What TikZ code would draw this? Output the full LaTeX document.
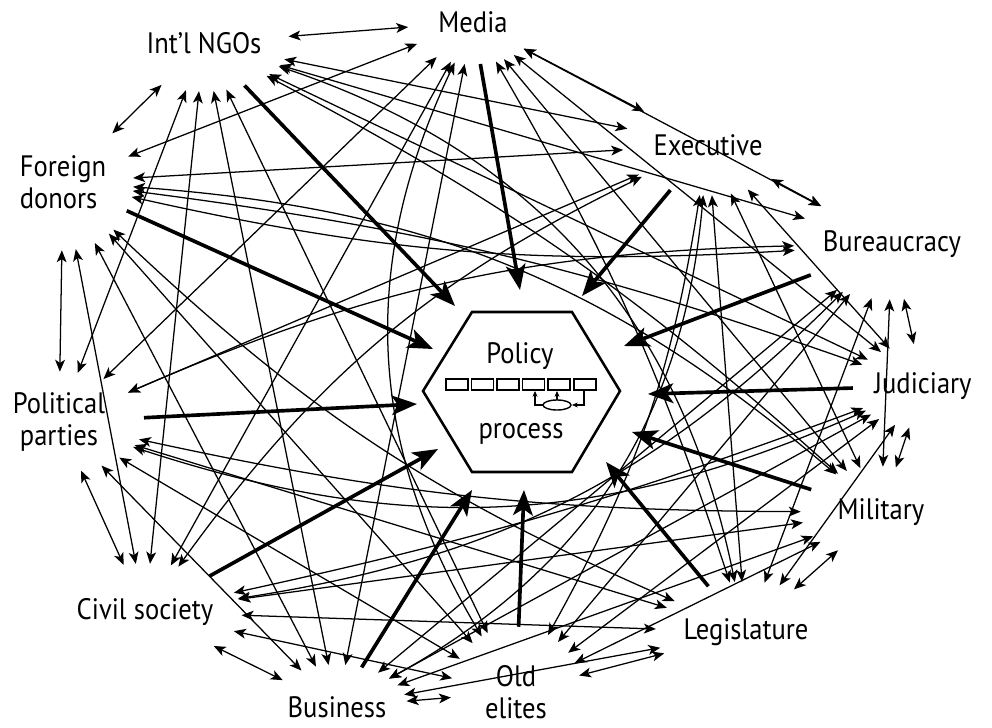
\documentclass[tikz,border=0pt]{standalone}
\usepackage{fontspec}
\setmainfont{PT Sans}[FakeStretch=0.9]
\usetikzlibrary{arrows.meta,shapes.geometric}
\begin{document}
\begin{tikzpicture}[x=0.025cm,y=-0.025cm,
  >={Stealth[length=8.5pt,width=7pt,inset=2.2pt]},
  actor/.style={ellipse, inner sep=0pt, font=\fontsize{21}{23}\selectfont},
  link/.style={<->, line width=0.9pt},
  push/.style={-{Stealth[length=18pt,width=14pt,inset=4.5pt]}, line width=2.6pt},
  hexline/.style={line width=1.8pt, line join=miter, fill=white},
  mini/.style={line width=1pt},
  minitip/.style={-{Stealth[length=4pt,width=3.5pt,inset=1pt]}, line width=0.8pt},
  core/.style={font=\fontsize{21}{24}\selectfont, inner sep=0pt, anchor=base},
]
\useasboundingbox (0,0) rectangle (992,728);

% actors
\node[actor, minimum width=4.25cm, minimum height=2.4cm] (ngo) at (204,43) {Int'l NGOs};
\node[actor, minimum width=3.25cm, minimum height=2.1cm] (med) at (473,22) {Media};
\node[actor, minimum width=4.25cm, minimum height=2.5cm] (exe) at (708,145) {Executive};
\node[actor, minimum width=4.5cm, minimum height=2.75cm] (bur) at (892,244) {Bureaucracy};
\node[actor, minimum width=3.5cm, minimum height=2.1cm] (jud) at (923,386) {Judiciary};
\node[actor, minimum width=4cm, minimum height=2.25cm] (mil) at (881,512) {Military};
\node[actor, minimum width=4.5cm, minimum height=2.5cm] (leg) at (746,632) {Legislature};
\node[actor, minimum width=3.25cm, minimum height=3.25cm, align=center] (old) at (516,692) {Old\\elites};
\node[actor, minimum width=3.5cm, minimum height=2.1cm] (bus) at (337,707) {Business};
\node[actor, minimum width=4.25cm, minimum height=2.4cm] (civ) at (145,612) {Civil society};
\node[actor, minimum width=4.25cm, minimum height=2.5cm, align=center] (pol) at (59,422) {Political\\parties};
\node[actor, minimum width=3.5cm, minimum height=3.4cm, align=left] (fdn) at (63,182) {Foreign\\donors};

% ends of the thick arrows
\coordinate (tNGO) at (455,306);
\coordinate (tMed) at (520,290);
\coordinate (tExe) at (582,296);
\coordinate (tBur) at (624,346);
\coordinate (tJud) at (648,394);
\coordinate (tMil) at (632,432);
\coordinate (tLeg) at (606,462);
\coordinate (tOld) at (524,490);
\coordinate (tBus) at (472,490);
\coordinate (tCiv) at (438,449);
\coordinate (tPol) at (417,404);
\coordinate (tFdn) at (433,349);

% neighbours
\draw[link] (ngo) -- (med);
\draw[link] (med) -- (exe);
\draw[link] (exe) -- (bur);
\draw[link] (bur) -- (jud);
\draw[link] (jud) -- (mil);
\draw[link] (mil) -- (leg);
\draw[link] (leg) -- (old);
\draw[link] (old) -- (bus);
\draw[link] (bus) -- (civ);
\draw[link] (civ) -- (pol);
\draw[link] (pol) -- (fdn);
\draw[link] (fdn) -- (ngo);

% Int'l NGOs
\draw[link] (ngo) -- (exe);
\draw[link] (ngo) -- (bur);
\draw[link] (ngo) -- (jud);
\draw[link] (ngo) to[bend left=7] (mil);
\draw[link] (ngo) to[bend left=30] (leg);
\draw[link] (ngo) -- (old);
\draw[link] (ngo) -- (bus);
\draw[link] (ngo) -- (civ);
\draw[link] (ngo) -- (pol);
% Media
\draw[link] (med) -- (bur);
\draw[link] (med) -- (jud);
\draw[link] (med) -- (mil);
\draw[link] (med) to[bend left=6] (leg);
\draw[link] (med) to[bend right=28] (old);
\draw[link] (med) -- (bus);
\draw[link] (med) -- (civ);
\draw[link] (med) -- (pol);
\draw[link] (med) -- (fdn);
% Executive
\draw[link] (exe) -- (jud);
\draw[link] (exe) -- (mil);
\draw[link] (exe) -- (leg);
\draw[link] (exe) to[bend left=10] (old);
\draw[link] (exe) to[bend left=28] (bus);
\draw[link] (exe) to[bend right=14] (civ);
\draw[link] (exe) -- (pol);
\draw[link] (exe) -- (fdn);
% Bureaucracy
\draw[link] (bur) -- (mil);
\draw[link] (bur) -- (leg);
\draw[link] (bur) -- (old);
\draw[link] (bur) -- (bus);
\draw[link] (bur) to[bend left=18] (civ);
\draw[link] (bur) to[bend right=11] (pol);
\draw[link] (bur) to[bend left=8] (fdn);
% Judiciary
\draw[link] (jud) -- (leg);
\draw[link] (jud) -- (old);
\draw[link] (jud) -- (bus);
\draw[link] (jud) to[bend left=4] (civ);
\draw[link] (jud) to[bend left=21] (pol);
\draw[link] (jud) to[bend right=6] (fdn);
% Military
\draw[link] (mil) -- (old);
\draw[link] (mil) -- (bus);
\draw[link] (mil) -- (civ);
\draw[link] (mil) to[bend left=6] (pol);
\draw[link] (mil) to[bend right=18] (fdn);
% Legislature
\draw[link] (leg) -- (bus);
\draw[link] (leg) -- (civ);
\draw[link] (leg) -- (pol);
\draw[link] (leg) to[bend left=10] (fdn);
% Old elites
\draw[link] (old) -- (civ);
\draw[link] (old) -- (pol);
\draw[link] (old) -- (fdn);
% Business
\draw[link] (bus) -- (pol);
\draw[link] (bus) -- (fdn);
% Civil society
\draw[link] (civ) -- (fdn);

% policy process hexagon
\draw[hexline] (423,391) -- (472,312) -- (572,312) -- (620,391) -- (572,472) -- (472,472) -- cycle;
\node[core] (pol1) at (520,363) {Policy};
\node[core] (pro1) at (521,438) {process};
\foreach \x in {446,471.5,497,522.5,548,574} \draw[mini] (\x,379) rectangle ++(22,11);
\draw[mini] (557,405) ellipse [x radius=14, y radius=5];
\draw[minitip] (543,405) -- (535,405) -- (535,391);
\draw[minitip] (557,400) -- (557,391);
\draw[minitip] (584,390) -- (584,405) -- (572,405);

% influence on the policy process
\draw[push] (ngo) -- (tNGO);
\draw[push] (med) -- (tMed);
\draw[push] (exe) -- (tExe);
\draw[push] (bur) -- (tBur);
\draw[push] (jud) -- (tJud);
\draw[push] (mil) -- (tMil);
\draw[push] (leg) -- (tLeg);
\draw[push] (old) -- (tOld);
\draw[push] (bus) -- (tBus);
\draw[push] (civ) -- (tCiv);
\draw[push] (pol) -- (tPol);
\draw[push] (fdn) -- (tFdn);
\end{tikzpicture}
\end{document}
